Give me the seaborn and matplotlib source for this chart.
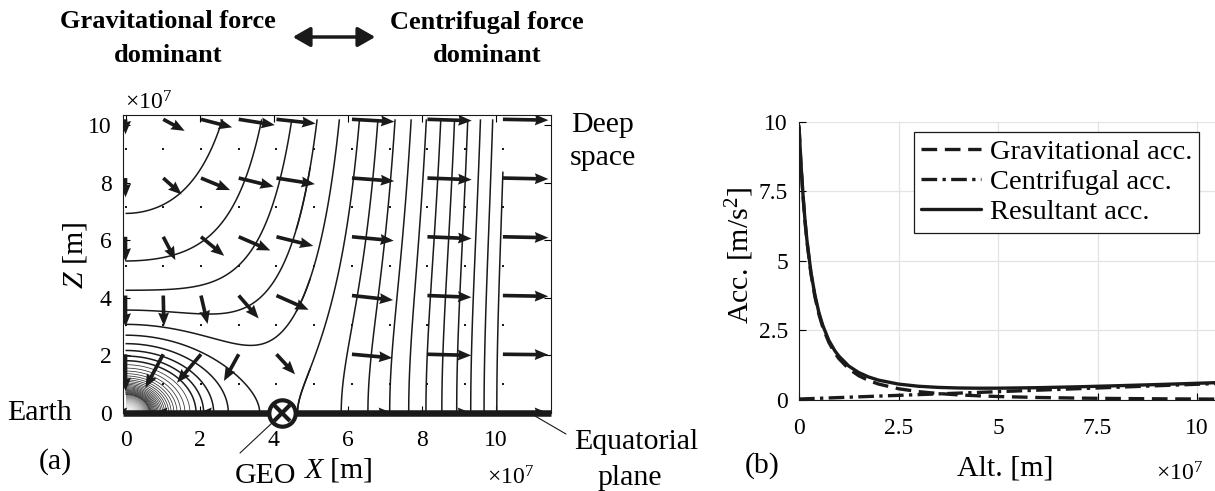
import numpy as np
import pandas as pd
import matplotlib
matplotlib.use("Agg")
import matplotlib.pyplot as plt
import seaborn as sns

# ---------------- data: panel (b) ----------------
alt_e7 = [0, 0.05, 0.1, 0.15, 0.2, 0.3, 0.4, 0.5, 0.6, 0.75, 0.9, 1.0, 1.25, 1.5,
          1.75, 2.0, 2.5, 3.0, 3.5, 4.0, 4.5, 5.0, 6.0, 7.0, 8.0, 9.0, 10.0, 10.5]
grav_acc = [9.82, 8.44, 7.34, 6.43, 5.69, 4.54, 3.71, 3.08, 2.60, 2.07, 1.69, 1.49, 1.12, 0.873,
            0.700, 0.573, 0.405, 0.301, 0.233, 0.185, 0.151, 0.125, 0.0905, 0.0683, 0.0534,
            0.0429, 0.0352, 0.0321]
cent_acc = [0.0339, 0.0365, 0.0392, 0.0418, 0.0445, 0.0498, 0.0551, 0.0605, 0.0658, 0.0738,
            0.0817, 0.0870, 0.1003, 0.1136, 0.1269, 0.1402, 0.1668, 0.1934, 0.220, 0.2466,
            0.2731, 0.2997, 0.3529, 0.4061, 0.4592, 0.5124, 0.5656, 0.5922]
res_acc = [9.85, 8.48, 7.38, 6.47, 5.73, 4.59, 3.77, 3.14, 2.67, 2.14, 1.77, 1.58, 1.22, 0.987,
           0.827, 0.713, 0.572, 0.494, 0.453, 0.432, 0.424, 0.425, 0.443, 0.474, 0.513, 0.555,
           0.601, 0.624]
series_names = ["Gravitational acc.", "Centrifugal acc.", "Resultant acc."]
acc_ticks = [0, 2.5, 5, 7.5, 10]
acc_tick_labels = ["0", "2.5", "5", "7.5", "10"]
alt_ticks_e7 = [0, 2.5, 5, 7.5, 10]
alt_tick_labels = ["0", "2.5", "5", "7.5", "10"]

# ---------------- data: panel (a) (field model constants) ----------------
GM = 3.986e14
OMEGA = 7.56e-5
R_EARTH = 6.371e6
R_GEO = 4.2164e7
GRID_STEP = 1.02e7
arrow_cols = [0, 1, 2, 3, 4, 6, 8, 10]
arrow_rows = [0, 2, 4, 6, 8, 10]
dot_cols = list(range(11))
dot_rows = [1, 3, 5, 7, 9]
level_top = -5.75e6
level_step = 1.8e6
n_levels = 34
x_ticks_e7 = [0, 2, 4, 6, 8, 10]
z_ticks_e7 = [0, 2, 4, 6, 8, 10]

# ---------------- style ----------------
sns.set_theme(style="white")
SERIF = ['Liberation Serif', 'DejaVu Serif']
plt.rcParams['font.family'] = SERIF
plt.rcParams['mathtext.fontset'] = 'custom'
plt.rcParams['mathtext.rm'] = 'Liberation Serif'
plt.rcParams['mathtext.it'] = 'Liberation Serif:italic'
plt.rcParams['mathtext.bf'] = 'Liberation Serif:bold'
plt.rcParams['axes.edgecolor'] = 'black'
plt.rcParams['text.color'] = 'black'
plt.rcParams['xtick.color'] = 'black'
plt.rcParams['ytick.color'] = 'black'

W, H = 1215, 491
fig = plt.figure(figsize=(W / 100, H / 100), dpi=100)
fig.patch.set_facecolor('white')


def P(x, y):
    return (x / W, 1 - y / H)


TICK_FS = 17
ANN_FS = 21.5

# ======================= panel (a) =======================
l, b = P(122.7, 413)
axL = fig.add_axes([l, b, (551 - 122.7) / W, (413 - 115) / H])
axL.set_facecolor('white')

xs = np.linspace(0, 10 * GRID_STEP, 700)
zs = np.linspace(0, 10 * GRID_STEP, 700)
X, Z = np.meshgrid(xs, zs)
R = np.hypot(X, Z)
with np.errstate(divide='ignore', invalid='ignore'):
    PHI = -GM / R - 0.5 * OMEGA ** 2 * X ** 2
PHI = np.ma.masked_where(R < R_EARTH, PHI)
levels = np.sort(level_top - level_step * np.arange(n_levels))
near = X < 5e7
# near-Earth region: dense thin lines
lws_near = [0.55 if lv < -2.3e7 else 1.1 for lv in levels]
cols_near = ['#303030' if lv < -2.3e7 else 'k' for lv in levels]
axL.contour(X, Z, np.ma.masked_where(~near, PHI), levels=levels, colors=cols_near,
            linewidths=lws_near, linestyles='solid', negative_linestyles='solid', zorder=2)
# rest of the plane
axL.contour(X, Z, np.ma.masked_where(X < 4.6e7, PHI), levels=levels, colors='k',
            linewidths=1.1, linestyles='solid', negative_linestyles='solid', zorder=2)

# shaded Earth corner (radial grey gradient)
xe = np.linspace(0, R_EARTH, 200)
XE, ZE = np.meshgrid(xe, xe)
RE = np.hypot(XE, ZE) / R_EARTH
shade = np.ma.masked_where(RE > 1, RE ** 1.3)
axL.imshow(shade, extent=[0, R_EARTH, 0, R_EARTH], origin='lower', cmap='Greys',
           vmin=-0.05, vmax=1.6, aspect='auto', interpolation='bilinear', zorder=1)

# quiver
Xq, Zq = np.meshgrid(np.array(arrow_cols) * GRID_STEP, np.array(arrow_rows) * GRID_STEP)
Xq = Xq.ravel(); Zq = Zq.ravel()
keep = np.hypot(Xq, Zq) > 0
Xq, Zq = Xq[keep], Zq[keep]
Rq = np.hypot(Xq, Zq)
Ax = -GM * Xq / Rq ** 3 + OMEGA ** 2 * Xq
Az = -GM * Zq / Rq ** 3
M = np.hypot(Ax, Az)
Lq = 1.363e7 * M / (M + 0.062)
U = Ax / M * Lq
V = Az / M * Lq
axL.quiver(Xq, Zq, U, V, angles='xy', scale_units='xy', scale=1, color='k',
           width=0.0085, headwidth=3.0, headlength=3.7, headaxislength=3.4, zorder=4)

# grid dots
Xd, Zd = np.meshgrid(np.array(dot_cols) * GRID_STEP, np.array(dot_rows) * GRID_STEP)
dots = pd.DataFrame({"x": Xd.ravel(), "z": Zd.ravel()})
sns.scatterplot(data=dots, x="x", y="z", ax=axL, marker='s', s=4, color='k',
                linewidth=0, legend=False, zorder=3)

xmin, xmax = -0.076e7, 11.5e7
axL.set_xlim(xmin, xmax)
axL.set_ylim(0, 10.35e7)
axL.plot([xmin, xmax], [0, 0], color='k', lw=4.7, solid_capstyle='butt', zorder=5, clip_on=False)
axL.plot([R_GEO], [0], marker='o', ms=19, mfc='white', mec='k', mew=3, zorder=7, clip_on=False)
axL.plot([R_GEO], [0], marker='x', ms=12, mec='k', mew=3, zorder=8, clip_on=False)

axL.set_xticks(np.array(x_ticks_e7) * 1e7)
axL.set_xticklabels([str(v) for v in x_ticks_e7])
axL.set_yticks(np.array(z_ticks_e7) * 1e7)
axL.set_yticklabels([str(v) for v in z_ticks_e7])
axL.tick_params(axis='x', direction='in', top=True, bottom=True, length=5, width=0.8,
                labelsize=TICK_FS, pad=12.5)
axL.tick_params(axis='y', direction='in', left=True, right=True, length=5, width=0.8,
                labelsize=TICK_FS, pad=8)
for s in axL.spines.values():
    s.set_linewidth(0.8)
    s.set_color('k')
axL.set_xlabel("")
axL.set_ylabel("")

# ======================= panel (b) =======================
l, b = P(799, 400)
axR = fig.add_axes([l, b, (10.5 * 39.8) / W, (400 - 121.7) / H])
axR.set_facecolor('white')
df = pd.DataFrame({
    "alt": np.array(alt_e7 * 3) * 1e7,
    "acc": grav_acc + cent_acc + res_acc,
    "kind": [series_names[0]] * len(alt_e7) + [series_names[1]] * len(alt_e7) + [series_names[2]] * len(alt_e7),
})
sns.lineplot(data=df, x="alt", y="acc", hue="kind", style="kind",
             palette=['k', 'k', 'k'],
             dashes=[(4.7, 2.3), (4.7, 1.6, 1.0, 1.6), ""],
             linewidth=2.4, ax=axR, legend=True, zorder=3)
axR.set_xlim(0, 10.5e7)
axR.set_ylim(0, 10)
axR.set_xticks(np.array(alt_ticks_e7) * 1e7)
axR.set_xticklabels(alt_tick_labels)
axR.set_yticks(acc_ticks)
axR.set_yticklabels(acc_tick_labels)
axR.grid(True, color='#e3e3e3', lw=0.9)
axR.set_axisbelow(True)
axR.spines['top'].set_visible(False)
axR.spines['right'].set_visible(False)
for s in ['left', 'bottom']:
    axR.spines[s].set_linewidth(0.8)
    axR.spines[s].set_color('k')
axR.tick_params(axis='x', direction='in', length=5, width=0.8, labelsize=TICK_FS, pad=13, bottom=True)
axR.tick_params(axis='y', direction='in', length=5, width=0.8, labelsize=TICK_FS, pad=8, left=True)
axR.set_xlabel("")
axR.set_ylabel("")
leg = axR.legend(loc='upper right', bbox_to_anchor=P(1199, 132), bbox_transform=fig.transFigure,
                 borderaxespad=0, fontsize=20.5, frameon=True, fancybox=False, framealpha=1,
                 edgecolor='k', handlelength=2.1, handletextpad=0.3, labelspacing=0.15,
                 borderpad=0.25)
leg.get_frame().set_linewidth(0.9)
for h in leg.get_lines():
    h.set_linewidth(2.4)

# ======================= annotations =======================
def T(x, y, s, **kw):
    fig.text(*P(x, y), s, **kw)


BOLD = dict(ha='center', va='center', fontsize=19, fontweight='bold', family='Liberation Serif')
T(168, 22, "Gravitational force", **BOLD)
T(168, 55, "dominant", **BOLD)
T(487, 22, "Centrifugal force", **BOLD)
T(487, 55, "dominant", **BOLD)
fig.add_artist(matplotlib.patches.FancyArrowPatch(P(290, 37), P(378, 37), transform=fig.transFigure,
               arrowstyle='<|-|>,head_length=7,head_width=4', color='k', lw=2.5, mutation_scale=1.5))

T(603, 125, "Deep", ha='center', va='center', fontsize=ANN_FS)
T(603, 158, "space", ha='center', va='center', fontsize=ANN_FS)
T(40, 413, "Earth", ha='center', va='center', fontsize=ANN_FS)
T(55, 462, "(a)", ha='center', va='center', fontsize=ANN_FS)
T(265, 476, "GEO", ha='center', va='center', fontsize=ANN_FS)
T(338, 470, r"$X$ [m]", ha='center', va='center', fontsize=ANN_FS)
T(636, 442, "Equatorial", ha='center', va='center', fontsize=ANN_FS)
T(630, 478, "plane", ha='center', va='center', fontsize=ANN_FS)
T(75, 255, r"$Z$ [m]", ha='center', va='center', fontsize=ANN_FS, rotation=90)
T(125, 109, r"$\times10^{7}$", ha='left', va='baseline', fontsize=TICK_FS)
T(511, 478, r"$\times10^{7}$", ha='center', va='center', fontsize=TICK_FS)

T(762, 466, "(b)", ha='center', va='center', fontsize=ANN_FS)
T(740, 255, r"Acc. [m/s$^2$]", ha='center', va='center', fontsize=ANN_FS, rotation=90)
T(1005, 468, "Alt. [m]", ha='center', va='center', fontsize=ANN_FS)
T(1180, 474, r"$\times10^{7}$", ha='center', va='center', fontsize=TICK_FS)

fig.add_artist(matplotlib.lines.Line2D([240 / W, 272 / W], [1 - 453 / H, 1 - 423 / H], color='k', lw=0.8))
fig.add_artist(matplotlib.lines.Line2D([535 / W, 566 / W], [1 - 416 / H, 1 - 434 / H], color='k', lw=0.8))

fig.savefig("out.png", dpi=100, facecolor='white')
